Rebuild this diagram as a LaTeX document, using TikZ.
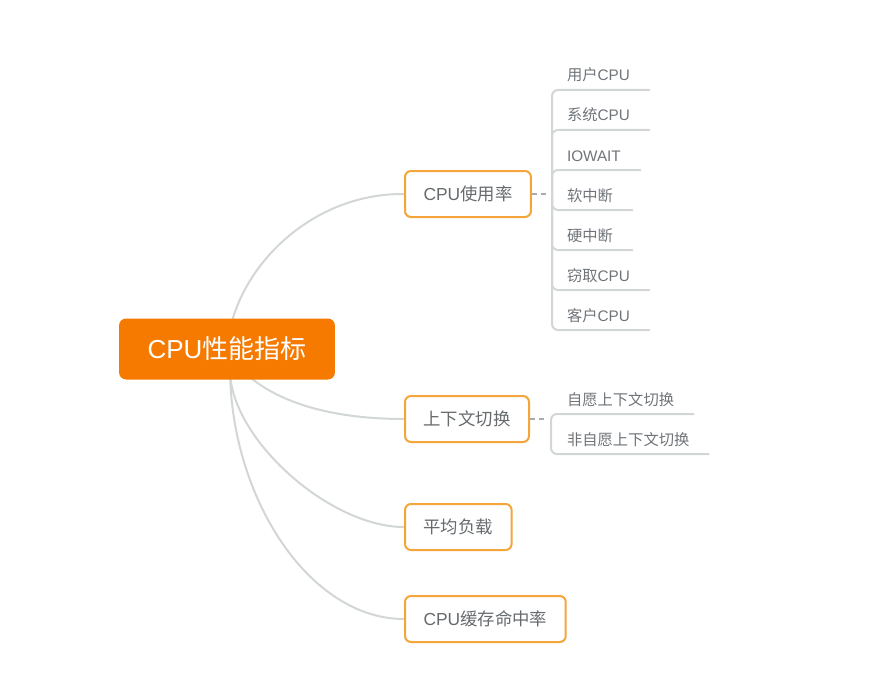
\documentclass[tikz,border=0pt]{standalone}
\usepackage{fontspec}
\setmainfont{Liberation Sans}
\newfontfamily\zh{Noto Sans CJK SC}
\usepackage{tikz}
\usetikzlibrary{positioning,backgrounds}

\definecolor{rootorange}{HTML}{F67A00}
\definecolor{topicedge}{HTML}{F4A63A}
\definecolor{branchgray}{HTML}{D3D6D7}
\definecolor{textgray}{HTML}{676B6E}
\definecolor{leafgray}{HTML}{707478}
\definecolor{dashgray}{HTML}{A9ACAE}

\begin{document}
\begin{tikzpicture}[x=1pt,y=-1pt,node distance=10pt,
  root/.style={fill=rootorange,text=white,rounded corners=7pt,inner xsep=28.5pt,minimum height=61pt,font=\fontsize{26}{30}\selectfont},
  topic/.style={draw=topicedge,line width=2pt,fill=white,rounded corners=6pt,anchor=west,inner xsep=18.5pt,minimum height=46pt,text=textgray,font=\fontsize{17.4}{21}\selectfont},
  leaf/.style={inner xsep=20pt,inner ysep=9pt,outer sep=0pt,text height=12pt,text depth=0pt,text=leafgray,font=\fontsize{15.3}{18}\selectfont},
  branch/.style={draw=branchgray,line width=2pt},
  twig/.style={draw=branchgray,line width=2pt,rounded corners=6pt},
  link/.style={draw=dashgray,line width=2pt,dash pattern=on 5pt off 4pt,shorten >=4pt}]
%\useasboundingbox keeps the margins of the sheet
  \useasboundingbox (0,0) rectangle (870,682);

  \node[root]  (cpu)    at (227,349) {CPU{\zh 性能指标}};
  \coordinate  (base)   at (230,372);

  \node[topic] (usage)  at (404,194) {CPU{\zh 使用率}};
  \node[topic] (switch) at (404,419) {{\zh 上下文切换}};
  \node[topic] (load)   at (404,527) {{\zh 平均负载}};
  \node[topic] (cache)  at (404,619) {CPU{\zh 缓存命中率}};

  \coordinate (hubA) at (552,194);
  \coordinate (hubB) at (551,419);

  \node[leaf,anchor=base west] (u1) at (547,81) {{\zh 用户}CPU};
  \node[leaf] (u2) [below=of u1.south west,anchor=north west] {{\zh 系统}CPU};
  \node[leaf] (u3) [below=of u2.south west,anchor=north west] {IOWAIT};
  \node[leaf] (u4) [below=of u3.south west,anchor=north west] {{\zh 软中断}};
  \node[leaf] (u5) [below=of u4.south west,anchor=north west] {{\zh 硬中断}};
  \node[leaf] (u6) [below=of u5.south west,anchor=north west] {{\zh 窃取}CPU};
  \node[leaf] (u7) [below=of u6.south west,anchor=north west] {{\zh 客户}CPU};

  \node[leaf,anchor=base west] (s1) at (547,405) {{\zh 自愿上下文切换}};
  \node[leaf] (s2) [below=of s1.south west,anchor=north west] {{\zh 非自愿上下文切换}};

  \begin{scope}[on background layer]
    \draw[branch] (cpu.center) .. controls (233,270) and (310,193) .. (usage.west);
    \draw[branch] (cpu.center) .. controls (245,385) and (300,419) .. (switch.west);
    \draw[branch] (base) .. controls (232,440) and (330,527) .. (load.west);
    \draw[branch] (base) .. controls (232,500) and (310,619) .. (cache.west);
  \end{scope}

  \draw[link] (usage.east) -- (hubA);
  \draw[link] (switch.east) -- (hubB);

  \draw[twig] (hubA) |- (u1.south east);
  \draw[twig] (hubA) |- (u2.south east);
  \draw[twig] (hubA) |- (u3.south east);
  \draw[twig] (hubA) |- (u4.south east);
  \draw[twig] (hubA) |- (u5.south east);
  \draw[twig] (hubA) |- (u6.south east);
  \draw[twig] (hubA) |- (u7.south east);

  \draw[twig] (hubB) |- (s1.south east);
  \draw[twig] (hubB) |- (s2.south east);
\end{tikzpicture}
\end{document}
